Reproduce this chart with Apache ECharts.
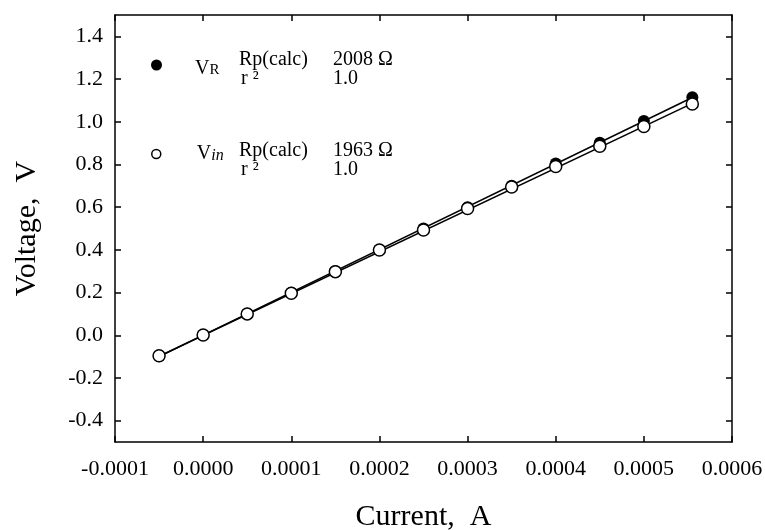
<!DOCTYPE html>
<html>
<head>
<meta charset="utf-8">
<script src="https://cdn.jsdelivr.net/npm/echarts@6/dist/echarts.min.js"></script>
<style>
  html, body { margin: 0; padding: 0; background: #fff; }
  #chart { width: 765px; height: 530px; }
</style>
</head>
<body>
<div id="chart"></div>
<script>
// measured current (A) and the two voltages (V)
const current = [-0.00005, 0, 0.00005, 0.0001, 0.00015, 0.0002, 0.00025, 0.0003, 0.00035, 0.0004, 0.00045, 0.0005, 0.000555];
const vR  = [-0.098, 0.001, 0.101, 0.199, 0.300, 0.401, 0.500, 0.600, 0.700, 0.805, 0.902, 1.003, 1.115];
const vIn = [-0.096, 0.001, 0.100, 0.197, 0.298, 0.399, 0.493, 0.594, 0.694, 0.790, 0.885, 0.978, 1.083];

// fitted lines, end points only
const fitX = [-0.00005, 0.000555];
const fitR = [-0.100, 1.114];
const fitIn = [-0.098, 1.086];

// fit results shown in the legend block
const rpCalc = ['2008 Ω', '1963 Ω'];
const rSquared = ['1.0', '1.0'];

const yTicks = [-0.4, -0.2, 0.0, 0.2, 0.4, 0.6, 0.8, 1.0, 1.2, 1.4];

const serif = '"Liberation Serif", "Times New Roman", serif';

const pairs = (xs, ys) => xs.map((x, i) => [x, ys[i]]);

const chart = echarts.init(document.getElementById('chart'));

const axisLine = { show: true, onZero: false, lineStyle: { color: '#000', width: 1.5 } };
const tick = { show: true, inside: true, length: 6, lineStyle: { color: '#000', width: 1.5 } };

const option = {
  animation: false,
  backgroundColor: '#fff',
  grid: { left: 115, right: 33, top: 15, bottom: 88, containLabel: false, outerBoundsMode: 'none' },
  xAxis: [
    {
      type: 'value',
      min: -0.0001,
      max: 0.0006,
      interval: 0.0001,
      position: 'bottom',
      name: 'Current,  A',
      nameLocation: 'middle',
      nameGap: 60,
      nameTextStyle: { fontFamily: serif, fontSize: 30, color: '#000' },
      axisLine: axisLine,
      axisTick: tick,
      splitLine: { show: false },
      axisLabel: {
        margin: 16,
        fontFamily: serif,
        fontSize: 22,
        color: '#000',
        formatter: v => v.toFixed(4)
      }
    },
    {
      type: 'value',
      min: -0.0001,
      max: 0.0006,
      interval: 0.0001,
      position: 'top',
      axisLine: axisLine,
      axisTick: tick,
      splitLine: { show: false },
      axisLabel: { show: false }
    }
  ],
  yAxis: [
    {
      type: 'value',
      min: -0.5,
      max: 1.5,
      position: 'left',
      name: 'Voltage,  V',
      nameLocation: 'middle',
      nameGap: 73,
      nameTextStyle: { fontFamily: serif, fontSize: 30, color: '#000' },
      axisLine: axisLine,
      axisTick: Object.assign({}, tick, { customValues: yTicks }),
      splitLine: { show: false },
      axisLabel: {
        customValues: yTicks,
        margin: 12,
        fontFamily: serif,
        fontSize: 22,
        color: '#000',
        formatter: v => v.toFixed(1)
      }
    },
    {
      type: 'value',
      min: -0.5,
      max: 1.5,
      position: 'right',
      axisLine: axisLine,
      axisTick: Object.assign({}, tick, { customValues: yTicks }),
      splitLine: { show: false },
      axisLabel: { show: false }
    }
  ],
  legend: [
    {
      data: ['VR'],
      left: 146,
      top: 46,
      selectedMode: false,
      itemWidth: 11,
      itemHeight: 11,
      itemStyle: { color: '#000', borderWidth: 0, opacity: 1 },
      formatter: () => '{v|V}{s|R}',
      textStyle: {
        rich: {
          v: { fontFamily: serif, fontSize: 20, color: '#000', padding: [8, 0, 0, 28], lineHeight: 22 },
          s: { fontFamily: serif, fontSize: 15, color: '#000', lineHeight: 22, padding: [10, 0, 0, 0] }
        }
      }
    },
    {
      data: ['Vin'],
      left: 146,
      top: 139,
      selectedMode: false,
      itemWidth: 9,
      itemHeight: 9,
      itemStyle: { color: '#fff', borderColor: '#000', borderWidth: 1.5, opacity: 1 },
      formatter: () => '{v|V}{s|in}',
      textStyle: {
        rich: {
          v: { fontFamily: serif, fontSize: 20, color: '#000', padding: [0, 0, 0, 31], lineHeight: 22 },
          s: { fontFamily: serif, fontSize: 16, fontStyle: 'italic', color: '#000', lineHeight: 22, padding: [3, 0, 0, 0] }
        }
      }
    }
  ],
  graphic: [
    { type: 'text', left: 239, top: 50, style: { text: 'Rp(calc)', font: '20px ' + serif, fill: '#000' } },
    { type: 'text', left: 241, top: 69, style: { text: 'r ²', font: '20px ' + serif, fill: '#000' } },
    { type: 'text', left: 333, top: 50, style: { text: rpCalc[0], font: '20px ' + serif, fill: '#000' } },
    { type: 'text', left: 333, top: 69, style: { text: rSquared[0], font: '20px ' + serif, fill: '#000' } },
    { type: 'text', left: 239, top: 141, style: { text: 'Rp(calc)', font: '20px ' + serif, fill: '#000' } },
    { type: 'text', left: 241, top: 160, style: { text: 'r ²', font: '20px ' + serif, fill: '#000' } },
    { type: 'text', left: 333, top: 141, style: { text: rpCalc[1], font: '20px ' + serif, fill: '#000' } },
    { type: 'text', left: 333, top: 160, style: { text: rSquared[1], font: '20px ' + serif, fill: '#000' } }
  ],
  series: [
    {
      name: 'fitR',
      type: 'line',
      data: pairs(fitX, fitR),
      symbol: 'none',
      lineStyle: { color: '#000', width: 1.6 },
      z: 1
    },
    {
      name: 'fitIn',
      type: 'line',
      data: pairs(fitX, fitIn),
      symbol: 'none',
      lineStyle: { color: '#000', width: 1.6 },
      z: 1
    },
    {
      name: 'VR',
      type: 'scatter',
      data: pairs(current, vR),
      symbol: 'circle',
      symbolSize: 12,
      itemStyle: { color: '#000', borderWidth: 0, opacity: 1 },
      z: 2
    },
    {
      name: 'Vin',
      type: 'scatter',
      data: pairs(current, vIn),
      symbol: 'circle',
      symbolSize: 12,
      itemStyle: { color: '#fff', borderColor: '#000', borderWidth: 1.5, opacity: 1 },
      z: 3
    }
  ]
};

chart.setOption(option);
</script>
</body>
</html>
